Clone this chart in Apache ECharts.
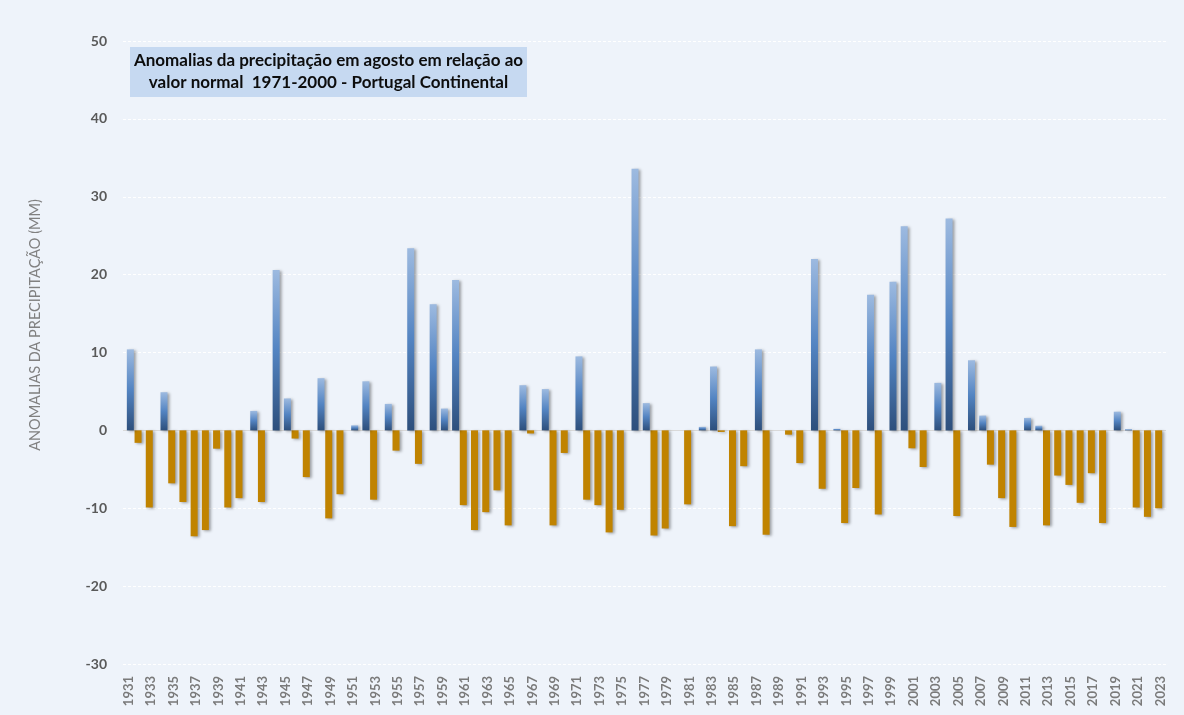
<!DOCTYPE html>
<html>
<head>
<meta charset="utf-8">
<script src="https://cdn.jsdelivr.net/npm/echarts@6/dist/echarts.min.js"></script>
<style>
html,body{margin:0;padding:0;background:#EEF3FA;}
#chart{width:1184px;height:715px;}
</style>
</head>
<body>
<div id="chart"></div>
<script>
// Years (categories)
var years = [];
for (var y = 1931; y <= 2023; y++) years.push(String(y));

// Precipitation anomaly in August (mm) vs 1971-2000 normal, Portugal Continental
var anomalies = [
  10.4, -1.6, -9.9, 4.9, -6.8, -9.2, -13.6, -12.8, -2.35, -9.9,   // 1931-1940
  -8.7, 2.5, -9.2, 20.6, 4.1, -1.05, -6.0, 6.7, -11.3, -8.2,      // 1941-1950
  0.65, 6.3, -8.9, 3.4, -2.6, 23.4, -4.3, 16.2, 2.8, 19.3,        // 1951-1960
  -9.6, -12.8, -10.5, -7.7, -12.2, 5.8, -0.4, 5.3, -12.2, -2.9,   // 1961-1970
  9.5, -8.9, -9.6, -13.1, -10.2, 33.6, 3.5, -13.5, -12.6, 0,      // 1971-1980
  -9.5, 0.45, 8.2, -0.2, -12.3, -4.6, 10.4, -13.4, 0, -0.55,      // 1981-1990
  -4.2, 22.0, -7.5, 0.2, -11.9, -7.4, 17.4, -10.8, 19.1, 26.2,    // 1991-2000
  -2.3, -4.7, 6.1, 27.2, -11.0, 9.0, 1.9, -4.4, -8.7, -12.4,      // 2001-2010
  1.6, 0.6, -12.2, -5.8, -7.0, -9.3, -5.5, -11.9, 2.4, 0.15,      // 2011-2020
  -9.9, -11.1, -10.0                                             // 2021-2023
];

// Y axis ticks
var yMin = -30, yMax = 50, yStep = 10;

var titleLines = ['Anomalias da precipitação em agosto em relação ao', 'valor normal  1971-2000 - Portugal Continental'];
var yAxisName = 'ANOMALIAS DA PRECIPITAÇÃO (MM)';

var negSeries = anomalies.map(function (v) { return v < 0 ? v : null; });
var posSeries = anomalies.map(function (v) { return v > 0 ? v : null; });

var chart = echarts.init(document.getElementById('chart'), null, {renderer: 'canvas'});

var blueGrad = new echarts.graphic.LinearGradient(0, 0, 0, 1, [
  {offset: 0, color: '#9DBAE0'},
  {offset: 0.5, color: '#5384C2'},
  {offset: 1, color: '#2D4F7C'}
]);

chart.setOption({
  backgroundColor: '#EEF3FA',
  animation: false,
  grid: {left: 123, right: 18, top: 41, bottom: 51, containLabel: false},
  xAxis: {
    type: 'category',
    data: years,
    boundaryGap: true,
    axisLine: {show: false},
    axisTick: {show: false},
    axisLabel: {
      interval: 1,
      rotate: 90,
      margin: 12,
      color: '#7A7A7A',
      fontFamily: 'Lato, "Open Sans", sans-serif',
      fontWeight: 'bold',
      fontSize: 13
    },
    splitLine: {show: false}
  },
  yAxis: {
    type: 'value',
    min: yMin,
    max: yMax,
    interval: yStep,
    axisLine: {show: false},
    axisTick: {show: false},
    axisLabel: {
      margin: 16,
      color: '#595959',
      fontFamily: 'Lato, "Open Sans", sans-serif',
      fontWeight: 'bold',
      fontSize: 14
    },
    splitLine: {show: true, lineStyle: {color: '#FFFFFF', type: [3, 2], width: 1}}
  },
  series: [
    {
      name: 'negativo',
      type: 'bar',
      data: negSeries,
      barWidth: 7,
      barGap: '-50%',
      itemStyle: {
        color: '#C08300',
        shadowColor: 'rgba(0,0,0,0.35)',
        shadowBlur: 3,
        shadowOffsetX: 2,
        shadowOffsetY: 1
      },
      markLine: {
        silent: true,
        symbol: 'none',
        label: {show: false},
        lineStyle: {color: '#D9D9D9', type: 'solid', width: 1},
        data: [{yAxis: 0}],
        z: 1
      }
    },
    {
      name: 'positivo',
      type: 'bar',
      data: posSeries,
      barWidth: 7,
      barGap: '-50%',
      itemStyle: {
        color: blueGrad,
        shadowColor: 'rgba(0,0,0,0.35)',
        shadowBlur: 3,
        shadowOffsetX: 2,
        shadowOffsetY: 1
      }
    }
  ],
  graphic: [
    {
      type: 'group',
      left: 130,
      top: 47,
      children: [
        {
          type: 'rect',
          shape: {x: 0, y: 0, width: 397, height: 50},
          style: {fill: '#C6D9F1'}
        },
        {
          type: 'text',
          x: 198.5,
          y: 25,
          style: {
            text: titleLines.join('\n'),
            align: 'center',
            verticalAlign: 'middle',
            lineHeight: 22,
            fill: '#0D0D0D',
            font: 'bold 17px Lato, "Open Sans", sans-serif'
          }
        }
      ]
    },
    {
      type: 'text',
      x: 35,
      y: 325,
      rotation: Math.PI / 2,
      style: {
        text: yAxisName,
        align: 'center',
        verticalAlign: 'middle',
        fill: '#808080',
        font: '14.5px Lato, "Open Sans", sans-serif'
      }
    }
  ]
});
</script>
</body>
</html>
